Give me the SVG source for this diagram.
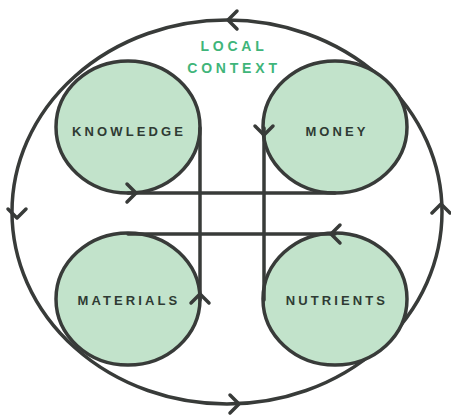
<svg xmlns="http://www.w3.org/2000/svg" width="451" height="419" viewBox="0 0 451 419">
<style>
.ln{fill:none;stroke:#383b39;stroke-width:3.5;stroke-linecap:round;stroke-linejoin:round}
.nd{fill:#c2e3cb;stroke:#383b39;stroke-width:3.5}
.lb{font-family:"Liberation Sans",Arial,sans-serif;font-weight:bold;font-size:13px;letter-spacing:3.1px;fill:#2f3b34;text-anchor:middle}
.ctx{font-family:"Liberation Sans",Arial,sans-serif;font-weight:bold;font-size:14px;letter-spacing:3.8px;fill:#3fb57a;text-anchor:middle}
</style>
<defs>
<path id="chev" d="M-8,-9 L1,0 L-8,9" class="ln"/>
</defs>
<rect width="451" height="419" fill="#ffffff"/>
<g id="context">
<ellipse cx="227" cy="212" rx="215" ry="192" class="ln"/>
<text class="ctx" x="234" y="51">LOCAL</text>
<text class="ctx" x="234" y="73">CONTEXT</text>
</g>
<g id="knowledge">
<ellipse cx="128" cy="127" rx="72" ry="66" class="nd"/>
<text class="lb" x="129" y="136">KNOWLEDGE</text>
</g>
<g id="money">
<ellipse cx="335" cy="127" rx="72" ry="66" class="nd"/>
<text class="lb" x="337" y="136">MONEY</text>
</g>
<g id="materials">
<ellipse cx="128" cy="299" rx="72" ry="66" class="nd"/>
<text class="lb" x="129" y="305">MATERIALS</text>
</g>
<g id="nutrients">
<ellipse cx="335" cy="299" rx="72" ry="66" class="nd"/>
<text class="lb" x="337" y="305">NUTRIENTS</text>
</g>
<g id="connectors">
<line x1="200" y1="128" x2="200" y2="300" class="ln"/>
<line x1="264" y1="128" x2="264" y2="300" class="ln"/>
<line x1="128" y1="193" x2="335" y2="193" class="ln"/>
<line x1="128" y1="234" x2="335" y2="234" class="ln"/>
<use href="#chev" transform="translate(229,20) rotate(180)"/>
<use href="#chev" transform="translate(17,217) rotate(90)"/>
<use href="#chev" transform="translate(238,404)"/>
<use href="#chev" transform="translate(441,205) rotate(-90)"/>
<use href="#chev" transform="translate(135,193)"/>
<use href="#chev" transform="translate(264,134) rotate(90)"/>
<use href="#chev" transform="translate(200,295) rotate(-90)"/>
<use href="#chev" transform="translate(332,234) rotate(180)"/>
</g>
</svg>
